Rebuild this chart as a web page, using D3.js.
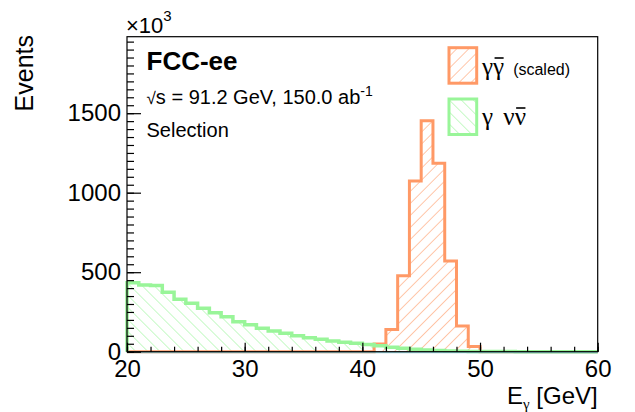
<!DOCTYPE html>
<html><head><meta charset="utf-8">
<script src="https://cdn.jsdelivr.net/npm/d3@7"></script>
<style>
html,body{margin:0;padding:0;background:#fff;}
text{font-family:"Liberation Sans",Arial,Helvetica,sans-serif;fill:#000;}
</style></head>
<body><svg id="c" width="635" height="412"></svg>
<script>
// ---- data ----
const binLowEdges = d3.range(20, 60, 1);            // 1 GeV bins, 20..60 GeV
const nunuGamma = [434,419,417,374,330,304,273,245,220,189,
                   170,147,130,116,101,88,78,67,59,53,
                   46,38,28,21,15,10,7,5,3,2,
                   1,1,1,0,0,0,0,0,0,0];            // γ νν̄ (x10^3)
const diphoton  = [0,0,0,0,0,0,0,0,0,0,
                   0,0,0,0,0,0,0,0,0,0,
                   0,48,140,478,1073,1453,1185,570,162,32,
                   0,0,0,0,0,0,0,0,0,0];            // γγ̄ scaled (x10^3)
const xMajorTicks = [20,30,40,50,60];
const yMajorTicks = [0,500,1000,1500];

// ---- layout ----
const W = 635, H = 412;
const m = {left:127, top:36.7, right:37.3, bottom:60.3};
const svg = d3.select("#c");
const x = d3.scaleLinear().domain([20,60]).range([m.left, W-m.right]);
const y = d3.scaleLinear().domain([0,1981]).range([H-m.bottom, m.top]);

const orange = "#ff9966", green = "#99f599";
const defs = svg.append("defs");
function hatch(id, color, dir){
  const p = defs.append("pattern").attr("id",id).attr("patternUnits","userSpaceOnUse")
    .attr("width",8.5).attr("height",8.5)
    .attr("patternTransform", `rotate(${dir>0?45:-45})`);
  p.append("line").attr("x1",0).attr("y1",0).attr("x2",0).attr("y2",8.5)
    .attr("stroke",color).attr("stroke-width",1.1);
}
hatch("hOr", orange, 1);
hatch("hGr", green, -1);

function stepPath(vals){
  let s = `M${x(binLowEdges[0])},${y(0)}`;
  vals.forEach((v,i)=>{ s += `V${y(v)}H${x(binLowEdges[i]+1)}`; });
  s += `V${y(0)}`;
  return s;
}
const g = svg.append("g");
g.append("path").attr("d", stepPath(diphoton)+"Z").attr("fill","url(#hOr)").attr("stroke","none");
g.append("path").attr("d", stepPath(nunuGamma)+"Z").attr("fill","url(#hGr)").attr("stroke","none");
g.append("path").attr("d", stepPath(diphoton)).attr("fill","none").attr("stroke",orange).attr("stroke-width",3);
g.append("path").attr("d", stepPath(nunuGamma)).attr("fill","none").attr("stroke",green).attr("stroke-width",3.5);

// baseline (teal)
svg.append("line").attr("x1",x(20)).attr("x2",x(60)).attr("y1",y(0)+1).attr("y2",y(0)+1)
  .attr("stroke","#7cc4cf").attr("stroke-width",1);

// frame
svg.append("rect").attr("x",x(20)).attr("y",y(1981)).attr("width",x(60)-x(20)).attr("height",y(0)-y(1981))
  .attr("fill","none").attr("stroke","#000").attr("stroke-width",1.2);

// axes
const fs = "24px";
const yMinor = svg.append("g").attr("transform",`translate(${m.left},0)`)
  .call(d3.axisLeft(y).tickValues(d3.range(0,1981,50)).tickSize(-7).tickFormat(""));
const yMajor = svg.append("g").attr("transform",`translate(${m.left},0)`)
  .call(d3.axisLeft(y).tickValues(yMajorTicks).tickSize(-14).tickPadding(6).tickFormat(d3.format("d")));
const xMinor = svg.append("g").attr("transform",`translate(0,${H-m.bottom})`)
  .call(d3.axisBottom(x).tickValues(d3.range(20,61,2)).tickSize(-5).tickFormat(""));
const xMajor = svg.append("g").attr("transform",`translate(0,${H-m.bottom})`)
  .call(d3.axisBottom(x).tickValues(xMajorTicks).tickSize(-9).tickPadding(8).tickFormat(d3.format("d")));
[yMinor,yMajor,xMinor,xMajor].forEach(a=>{
  a.select(".domain").remove();
  a.selectAll("line").attr("stroke","#000").attr("stroke-width",1.2);
  a.selectAll("text").style("font-size",fs).attr("fill","#000")
   .style("font-family","'Liberation Sans',Arial,sans-serif");
});

// ×10^3
const ex = svg.append("text").attr("x",m.left-1).attr("y",33).style("font-size","22px");
ex.append("tspan").text("×10");
ex.append("tspan").attr("dy",-12).style("font-size","15px").text("3");

// axis titles
const xt = svg.append("text").attr("x",x(60)).attr("y",404).attr("text-anchor","end").style("font-size",fs);
xt.append("tspan").text("E");
xt.append("tspan").attr("dy",5).style("font-size","15px").style("font-family","'Liberation Serif',serif").text("γ");
xt.append("tspan").attr("dy",-5).text(" [GeV]");
svg.append("text").attr("transform","translate(33,35) rotate(-90)").attr("text-anchor","end")
  .style("font-size","25px").text("Events");

// labels
svg.append("text").attr("x",146.5).attr("y",70).style("font-size","26px").style("font-weight","bold").text("FCC-ee");
const lum = svg.append("text").attr("x",146.5).attr("y",103.5).style("font-size","20px");
lum.append("tspan").style("font-size","17px").text("√");
lum.append("tspan").text("s = 91.2 GeV, 150.0 ab");
lum.append("tspan").attr("dy",-8).style("font-size","14px").text("-1");
svg.append("text").attr("x",146.5).attr("y",136.5).style("font-size","20px").text("Selection");

// legend
const leg = [{c:orange,p:"url(#hOr)",y0:47.7},{c:green,p:"url(#hGr)",y0:99}];
leg.forEach(d=>{
  svg.append("rect").attr("x",449).attr("y",d.y0).attr("width",27.7).attr("height",35.5)
    .attr("fill",d.p).attr("stroke",d.c).attr("stroke-width",3);
});
const greek = "'Liberation Serif','DejaVu Serif',serif";
const t1 = svg.append("text").attr("x",482).attr("y",75).style("font-size","25px").style("font-family",greek);
t1.append("tspan").text("γ");
const ov1 = t1.append("tspan").text("γ");
t1.append("tspan").attr("dx",9).style("font-size","16px").style("font-family","'Liberation Sans',Arial,sans-serif").text("(scaled)");
const t2 = svg.append("text").attr("x",482).attr("y",125).style("font-size","25px").style("font-family",greek);
t2.append("tspan").text("γ ");
t2.append("tspan").attr("dx",4).text("ν");
const ov2 = t2.append("tspan").text("ν");
// overbars above the antiparticle symbols
function overbar(textSel, charIndex, baseY){
  const e = textSel.node().getExtentOfChar(charIndex);
  svg.append("line").attr("x1",e.x+1.5).attr("x2",e.x+e.width-0.5)
    .attr("y1",baseY-17).attr("y2",baseY-17).attr("stroke","#000").attr("stroke-width",1.6);
}
overbar(t1, 1, 75);
overbar(t2, 3, 125);
</script></body></html>
